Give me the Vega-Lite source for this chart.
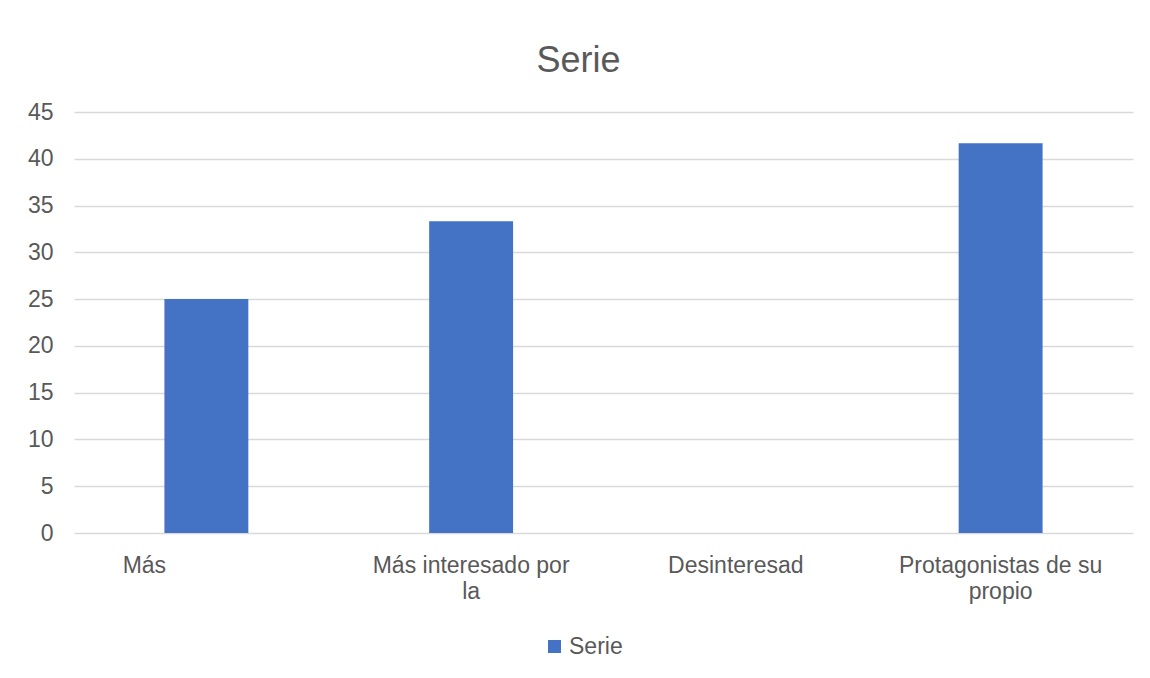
{
  "$schema": "https://vega.github.io/schema/vega-lite/v6.json",
  "autosize": "none",
  "width": 1059,
  "height": 421,
  "padding": {"left": 74, "top": 112, "right": 17, "bottom": 145},
  "background": "white",
  "title": {
    "text": "Serie",
    "font": "Liberation Sans",
    "fontSize": 36,
    "fontWeight": "normal",
    "color": "#595959",
    "anchor": "middle",
    "dx": -25,
    "offset": 21
  },
  "data": {
    "values": [
      {"categoria": "Más", "valor": 25, "serie": "Serie"},
      {"categoria": "Más interesado por|la", "valor": 33.33, "serie": "Serie"},
      {"categoria": "Desinteresad", "valor": 0, "serie": "Serie"},
      {"categoria": "Protagonistas de su|propio", "valor": 41.67, "serie": "Serie"}
    ]
  },
  "mark": {"type": "bar", "color": "#4472C4"},
  "encoding": {
    "x": {
      "field": "categoria",
      "type": "nominal",
      "sort": null,
      "scale": {"paddingInner": 0.683, "paddingOuter": 0.3415},
      "axis": {
        "title": null,
        "labelAngle": 0,
        "labelExpr": "split(datum.label, '|')",
        "labelFont": "Liberation Sans",
        "labelFontSize": 23,
        "labelColor": "#595959",
        "labelLineHeight": 26,
        "labelPadding": 21,
        "labelOffset": {"condition": {"test": "datum.value == 'Más'", "value": -62}, "value": 0},
        "domain": false,
        "ticks": false,
        "grid": false,
        "labelLimit": 400
      }
    },
    "y": {
      "field": "valor",
      "type": "quantitative",
      "scale": {"domain": [0, 45], "nice": false},
      "axis": {
        "title": null,
        "values": [0, 5, 10, 15, 20, 25, 30, 35, 40, 45],
        "labelFont": "Liberation Sans",
        "labelFontSize": 23,
        "labelColor": "#595959",
        "labelPadding": 21,
        "domain": false,
        "ticks": false,
        "gridColor": "#d9d9d9",
        "gridWidth": 1.3
      }
    },
    "color": {
      "field": "serie",
      "type": "nominal",
      "scale": {"range": ["#4472C4"]},
      "legend": {
        "title": null,
        "orient": "none",
        "legendX": 469,
        "legendY": 523,
        "symbolType": "square",
        "symbolSize": 169,
        "symbolStrokeWidth": 0,
        "labelFont": "Liberation Sans",
        "labelFontSize": 23,
        "labelColor": "#595959",
        "labelOffset": 3
      }
    }
  },
  "config": {"view": {"stroke": null}}
}
